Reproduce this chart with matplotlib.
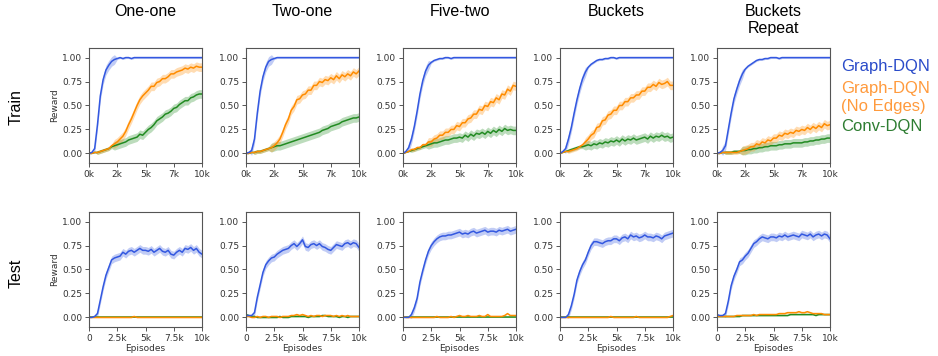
import numpy as np
import matplotlib
matplotlib.use("Agg")
import matplotlib.pyplot as plt
from matplotlib.ticker import FuncFormatter

# Sample grid (episodes) shared by every curve
episodes = np.arange(0, 10001, 250)

tasks = ["One-one", "Two-one", "Five-two", "Buckets", "Buckets\nRepeat"]
methods = ["Graph-DQN", "Graph-DQN\n(No Edges)", "Conv-DQN"]

# ---------------- Train row: mean reward ----------------
train_graph = [
    [0.00, 0.01, 0.05, 0.30, 0.60, 0.77, 0.87, 0.92, 0.96, 0.98,
     0.99, 1.00, 0.99, 1.00, 1.00, 0.99, 1.00, 1.00, 1.00, 1.00,
     1.00, 1.00, 1.00, 1.00, 1.00, 1.00, 1.00, 1.00, 1.00, 1.00,
     1.00, 1.00, 1.00, 1.00, 1.00, 1.00, 1.00, 1.00, 1.00, 1.00, 1.00],
    [0.00, 0.01, 0.03, 0.15, 0.42, 0.65, 0.80, 0.90, 0.96, 0.98,
     0.99, 1.00, 1.00, 1.00, 1.00, 1.00, 1.00, 1.00, 1.00, 1.00,
     1.00, 1.00, 1.00, 1.00, 1.00, 1.00, 1.00, 1.00, 1.00, 1.00,
     1.00, 1.00, 1.00, 1.00, 1.00, 1.00, 1.00, 1.00, 1.00, 1.00, 1.00],
    [0.00, 0.02, 0.06, 0.15, 0.28, 0.44, 0.62, 0.76, 0.86, 0.92,
     0.95, 0.97, 0.98, 0.99, 0.99, 1.00, 1.00, 0.99, 1.00, 1.00,
     1.00, 1.00, 1.00, 1.00, 1.00, 1.00, 1.00, 1.00, 1.00, 1.00,
     1.00, 1.00, 1.00, 1.00, 1.00, 1.00, 1.00, 1.00, 1.00, 1.00, 1.00],
    [0.00, 0.02, 0.05, 0.15, 0.27, 0.42, 0.56, 0.68, 0.78, 0.85,
     0.90, 0.93, 0.95, 0.97, 0.98, 0.98, 0.99, 0.99, 1.00, 1.00,
     0.99, 1.00, 1.00, 1.00, 1.00, 1.00, 1.00, 1.00, 1.00, 1.00,
     1.00, 1.00, 1.00, 1.00, 1.00, 1.00, 1.00, 1.00, 1.00, 1.00, 1.00],
    [0.00, 0.01, 0.03, 0.08, 0.25, 0.42, 0.57, 0.67, 0.76, 0.83,
     0.88, 0.91, 0.93, 0.95, 0.97, 0.98, 0.98, 0.99, 0.99, 1.00,
     1.00, 1.00, 0.99, 1.00, 1.00, 1.00, 1.00, 1.00, 1.00, 1.00,
     1.00, 1.00, 1.00, 1.00, 1.00, 1.00, 1.00, 1.00, 1.00, 1.00, 1.00],
]
train_noedge = [
    [0.00, 0.00, 0.01, 0.01, 0.02, 0.03, 0.04, 0.05, 0.08, 0.10,
     0.12, 0.15, 0.18, 0.23, 0.30, 0.36, 0.43, 0.50, 0.56, 0.60,
     0.63, 0.66, 0.70, 0.70, 0.74, 0.75, 0.78, 0.78, 0.80, 0.83,
     0.83, 0.85, 0.86, 0.87, 0.89, 0.88, 0.90, 0.89, 0.91, 0.90, 0.90],
    [0.00, 0.00, 0.01, 0.01, 0.02, 0.02, 0.03, 0.04, 0.05, 0.06,
     0.08, 0.11, 0.15, 0.22, 0.30, 0.36, 0.45, 0.49, 0.56, 0.57,
     0.61, 0.62, 0.66, 0.66, 0.71, 0.71, 0.75, 0.74, 0.77, 0.76,
     0.79, 0.77, 0.81, 0.78, 0.82, 0.80, 0.83, 0.81, 0.85, 0.83, 0.86],
    [0.00, 0.01, 0.02, 0.04, 0.04, 0.06, 0.06, 0.09, 0.09, 0.12,
     0.12, 0.15, 0.16, 0.19, 0.19, 0.22, 0.22, 0.25, 0.25, 0.29,
     0.28, 0.32, 0.32, 0.36, 0.37, 0.41, 0.41, 0.46, 0.45, 0.50,
     0.49, 0.54, 0.53, 0.58, 0.56, 0.62, 0.61, 0.67, 0.65, 0.71, 0.70],
    [0.00, 0.01, 0.02, 0.02, 0.03, 0.04, 0.05, 0.07, 0.09, 0.12,
     0.15, 0.19, 0.21, 0.27, 0.28, 0.34, 0.35, 0.40, 0.41, 0.45,
     0.45, 0.50, 0.50, 0.54, 0.54, 0.58, 0.58, 0.61, 0.61, 0.65,
     0.65, 0.69, 0.69, 0.72, 0.70, 0.74, 0.72, 0.73, 0.75, 0.71, 0.71],
    [0.00, 0.00, 0.01, 0.01, 0.01, 0.01, 0.01, 0.01, 0.02, 0.03,
     0.04, 0.05, 0.07, 0.07, 0.10, 0.09, 0.12, 0.11, 0.14, 0.13,
     0.16, 0.16, 0.19, 0.18, 0.21, 0.20, 0.22, 0.21, 0.24, 0.23,
     0.25, 0.24, 0.27, 0.25, 0.28, 0.26, 0.29, 0.27, 0.31, 0.29, 0.30],
]
train_conv = [
    [0.00, 0.00, 0.01, 0.01, 0.02, 0.03, 0.04, 0.05, 0.07, 0.08,
     0.09, 0.10, 0.11, 0.12, 0.14, 0.15, 0.16, 0.17, 0.20, 0.19,
     0.22, 0.25, 0.27, 0.30, 0.34, 0.36, 0.38, 0.41, 0.42, 0.44,
     0.47, 0.48, 0.51, 0.53, 0.55, 0.55, 0.58, 0.59, 0.61, 0.62, 0.62],
    [0.00, 0.00, 0.01, 0.01, 0.02, 0.02, 0.03, 0.04, 0.05, 0.06,
     0.07, 0.08, 0.08, 0.09, 0.10, 0.11, 0.12, 0.13, 0.14, 0.15,
     0.16, 0.17, 0.18, 0.19, 0.20, 0.21, 0.22, 0.24, 0.25, 0.26,
     0.28, 0.29, 0.30, 0.31, 0.33, 0.34, 0.35, 0.36, 0.37, 0.37, 0.38],
    [0.00, 0.01, 0.02, 0.03, 0.04, 0.05, 0.06, 0.07, 0.08, 0.09,
     0.10, 0.11, 0.11, 0.12, 0.13, 0.14, 0.14, 0.15, 0.16, 0.16,
     0.17, 0.16, 0.19, 0.17, 0.20, 0.18, 0.21, 0.20, 0.22, 0.20,
     0.23, 0.21, 0.24, 0.22, 0.25, 0.23, 0.26, 0.24, 0.25, 0.24, 0.24],
    [0.00, 0.01, 0.02, 0.03, 0.04, 0.05, 0.06, 0.07, 0.07, 0.08,
     0.09, 0.08, 0.10, 0.09, 0.11, 0.10, 0.12, 0.11, 0.13, 0.12,
     0.14, 0.12, 0.15, 0.13, 0.15, 0.14, 0.16, 0.14, 0.15, 0.16,
     0.17, 0.15, 0.18, 0.16, 0.18, 0.17, 0.19, 0.17, 0.18, 0.16, 0.17],
    [0.00, 0.00, 0.01, 0.01, 0.01, 0.01, 0.02, 0.02, 0.02, 0.03,
     0.03, 0.04, 0.04, 0.05, 0.05, 0.06, 0.06, 0.07, 0.07, 0.08,
     0.08, 0.08, 0.09, 0.09, 0.10, 0.10, 0.10, 0.11, 0.11, 0.11,
     0.11, 0.12, 0.12, 0.13, 0.13, 0.14, 0.14, 0.15, 0.15, 0.16, 0.16],
]

# ---------------- Test row: mean reward ----------------
test_graph = [
    [0.00, 0.00, 0.01, 0.04, 0.18, 0.32, 0.44, 0.52, 0.60, 0.62,
     0.63, 0.64, 0.68, 0.66, 0.69, 0.70, 0.68, 0.70, 0.72, 0.70,
     0.70, 0.69, 0.71, 0.68, 0.70, 0.72, 0.69, 0.68, 0.70, 0.66,
     0.65, 0.68, 0.70, 0.68, 0.72, 0.71, 0.73, 0.70, 0.72, 0.68, 0.66],
    [0.02, 0.02, 0.02, 0.05, 0.21, 0.34, 0.47, 0.55, 0.59, 0.62,
     0.63, 0.66, 0.68, 0.70, 0.71, 0.72, 0.75, 0.77, 0.74, 0.77,
     0.81, 0.74, 0.73, 0.76, 0.77, 0.75, 0.77, 0.74, 0.73, 0.71,
     0.70, 0.73, 0.76, 0.75, 0.74, 0.77, 0.78, 0.76, 0.78, 0.77, 0.73],
    [0.00, 0.00, 0.00, 0.03, 0.10, 0.20, 0.37, 0.49, 0.60, 0.69,
     0.75, 0.79, 0.82, 0.84, 0.85, 0.85, 0.86, 0.86, 0.87, 0.88,
     0.89, 0.87, 0.88, 0.87, 0.89, 0.90, 0.88, 0.89, 0.90, 0.91,
     0.89, 0.90, 0.90, 0.89, 0.91, 0.90, 0.91, 0.92, 0.90, 0.91, 0.92],
    [0.00, 0.00, 0.00, 0.03, 0.12, 0.24, 0.39, 0.48, 0.55, 0.60,
     0.68, 0.75, 0.79, 0.79, 0.78, 0.77, 0.79, 0.80, 0.80, 0.82,
     0.82, 0.80, 0.83, 0.84, 0.82, 0.86, 0.84, 0.85, 0.83, 0.84,
     0.86, 0.84, 0.84, 0.83, 0.85, 0.84, 0.82, 0.85, 0.86, 0.87, 0.88],
    [0.03, 0.02, 0.02, 0.04, 0.17, 0.33, 0.43, 0.50, 0.58, 0.60,
     0.64, 0.67, 0.72, 0.77, 0.79, 0.82, 0.84, 0.83, 0.82, 0.84,
     0.84, 0.83, 0.85, 0.84, 0.86, 0.84, 0.85, 0.86, 0.85, 0.84,
     0.87, 0.86, 0.85, 0.87, 0.84, 0.86, 0.87, 0.85, 0.87, 0.86, 0.82],
]
test_noedge = [
    [0.00, 0.00, 0.00, 0.00, 0.00, 0.00, 0.00, 0.00, 0.00, 0.00,
     0.00, 0.00, 0.00, 0.00, 0.00, 0.00, 0.01, 0.00, 0.00, 0.00,
     0.00, 0.00, 0.00, 0.00, 0.00, 0.00, 0.00, 0.00, 0.00, 0.00,
     0.00, 0.00, 0.00, 0.00, 0.00, 0.00, 0.00, 0.00, 0.00, 0.00, 0.00],
    [0.01, 0.01, 0.00, 0.00, 0.01, 0.00, 0.01, 0.01, 0.00, 0.01,
     0.01, 0.01, 0.00, 0.01, 0.01, 0.01, 0.02, 0.02, 0.03, 0.02,
     0.03, 0.02, 0.01, 0.02, 0.01, 0.02, 0.02, 0.01, 0.02, 0.02,
     0.02, 0.01, 0.02, 0.01, 0.02, 0.01, 0.02, 0.01, 0.01, 0.01, 0.01],
    [0.01, 0.00, 0.00, 0.00, 0.00, 0.00, 0.00, 0.00, 0.00, 0.00,
     0.00, 0.00, 0.01, 0.00, 0.00, 0.00, 0.00, 0.01, 0.00, 0.01,
     0.02, 0.01, 0.01, 0.02, 0.01, 0.01, 0.01, 0.02, 0.01, 0.01,
     0.03, 0.01, 0.01, 0.01, 0.01, 0.01, 0.02, 0.04, 0.02, 0.02, 0.02],
    [0.00, 0.00, 0.00, 0.00, 0.00, 0.00, 0.00, 0.00, 0.00, 0.00,
     0.00, 0.00, 0.00, 0.00, 0.00, 0.00, 0.00, 0.00, 0.01, 0.00,
     0.00, 0.00, 0.00, 0.00, 0.00, 0.00, 0.00, 0.01, 0.00, 0.00,
     0.00, 0.00, 0.00, 0.00, 0.00, 0.00, 0.00, 0.00, 0.00, 0.01, 0.02],
    [0.01, 0.01, 0.01, 0.01, 0.01, 0.01, 0.01, 0.02, 0.02, 0.02,
     0.02, 0.02, 0.02, 0.03, 0.02, 0.03, 0.03, 0.03, 0.03, 0.03,
     0.03, 0.03, 0.04, 0.04, 0.04, 0.05, 0.05, 0.05, 0.05, 0.06,
     0.05, 0.05, 0.06, 0.05, 0.04, 0.04, 0.04, 0.04, 0.03, 0.03, 0.03],
]
test_conv = [
    [0.00] * 41,
    [0.03, 0.02, 0.01, 0.01, 0.00, 0.00, 0.00, 0.00, 0.00, 0.00,
     0.00, 0.00, 0.01, 0.00, 0.00, 0.00, 0.01, 0.01, 0.01, 0.01,
     0.01, 0.01, 0.00, 0.01, 0.01, 0.01, 0.01, 0.02, 0.02, 0.01,
     0.01, 0.01, 0.01, 0.00, 0.01, 0.01, 0.00, 0.01, 0.01, 0.01, 0.01],
    [0.00] * 41,
    [0.00] * 41,
    [0.01, 0.01, 0.01, 0.01, 0.01, 0.01, 0.01, 0.01, 0.01, 0.02,
     0.02, 0.02, 0.02, 0.02, 0.02, 0.02, 0.02, 0.02, 0.02, 0.02,
     0.02, 0.02, 0.02, 0.02, 0.02, 0.02, 0.03, 0.03, 0.03, 0.03,
     0.03, 0.03, 0.03, 0.03, 0.03, 0.02, 0.03, 0.03, 0.03, 0.03, 0.03],
]

# Spread (half-width of shaded band)
train_graph_sd = [0.0] * 2 + [0.05] * 8 + [0.01] * 31
train_other_sd = [0.0] * 3 + [0.02] * 6 + [0.045] * 32
test_graph_sd = [0.0] * 3 + [0.04] * 38
test_other_sd = [0.005] * 41

colors = ["#3358e0", "#ff8c00", "#228b22"]
text_colors = ["#2a4bc9", "#ff9a3c", "#2e7d32"]

fig = plt.figure(figsize=(9.38, 3.56), dpi=100)

lefts = [89, 246, 403, 560, 717]
W, H = 938.0, 356.0
ax_w = 113 / W
ax_h = 115 / H
row_bottoms = [1 - 163 / H, 1 - 327 / H]

rows = [
    (train_graph, train_noedge, train_conv, train_graph_sd, train_other_sd),
    (test_graph, test_noedge, test_conv, test_graph_sd, test_other_sd),
]

for r, (g, ne, cv, gsd, osd) in enumerate(rows):
    for c in range(5):
        ax = fig.add_axes([lefts[c] / W, row_bottoms[r], ax_w, ax_h])
        series = [(cv[c], osd, colors[2]), (ne[c], osd, colors[1]), (g[c], gsd, colors[0])]
        for y, sd, col in series:
            y = np.array(y)
            sd = np.array(sd)
            ax.fill_between(episodes, y - sd, y + sd, color=col, alpha=0.3, lw=0)
            ax.plot(episodes, y, color=col, lw=1.1)
        ax.set_xlim(0, 10000)
        ax.set_ylim(-0.1, 1.1)
        ax.set_yticks([0, 0.25, 0.5, 0.75, 1.0])
        ax.yaxis.set_major_formatter(FuncFormatter(lambda v, p: f"{v:.2f}"))
        ax.set_xticks([0, 2500, 5000, 7500, 10000])
        if r == 0:
            ax.xaxis.set_major_formatter(FuncFormatter(lambda v, p: f"{int(v // 1000)}k"))
        else:
            ax.set_xticklabels(["0", "2.5k", "5k", "7.5k", "10k"])
            ax.set_xlabel("Episodes", fontsize=6.5, color="#333333", labelpad=1)
        if c == 0:
            ax.set_ylabel("Reward", fontsize=6.5, color="#333333", labelpad=2)
        ax.tick_params(labelsize=6.5, length=3, width=0.7, color="#555555",
                       labelcolor="#333333", pad=2)
        for s in ax.spines.values():
            s.set_color("#555555")
            s.set_linewidth(0.8)
        if r == 0:
            fig.text((lefts[c] + 56.5) / W, 1 - 4 / H, tasks[c], ha="center", va="top",
                     fontsize=11.5, family="Liberation Sans", linespacing=1.15)

fig.text(16 / W, 1 - 107 / H, "Train", rotation=90, ha="center", va="center",
         fontsize=11.5, family="Liberation Sans")
fig.text(16 / W, 1 - 273 / H, "Test", rotation=90, ha="center", va="center",
         fontsize=11.5, family="Liberation Sans")

legend_y = [67, 88, 107, 127]
legend_txt = ["Graph-DQN", "Graph-DQN", "(No Edges)", "Conv-DQN"]
legend_col = [text_colors[0], text_colors[1], text_colors[1], text_colors[2]]
for t, yy, col in zip(legend_txt, legend_y, legend_col):
    fig.text(841 / W, 1 - yy / H, t, ha="left", va="center", fontsize=12,
             family="Liberation Sans", color=col)

fig.savefig("out.png", dpi=100)
